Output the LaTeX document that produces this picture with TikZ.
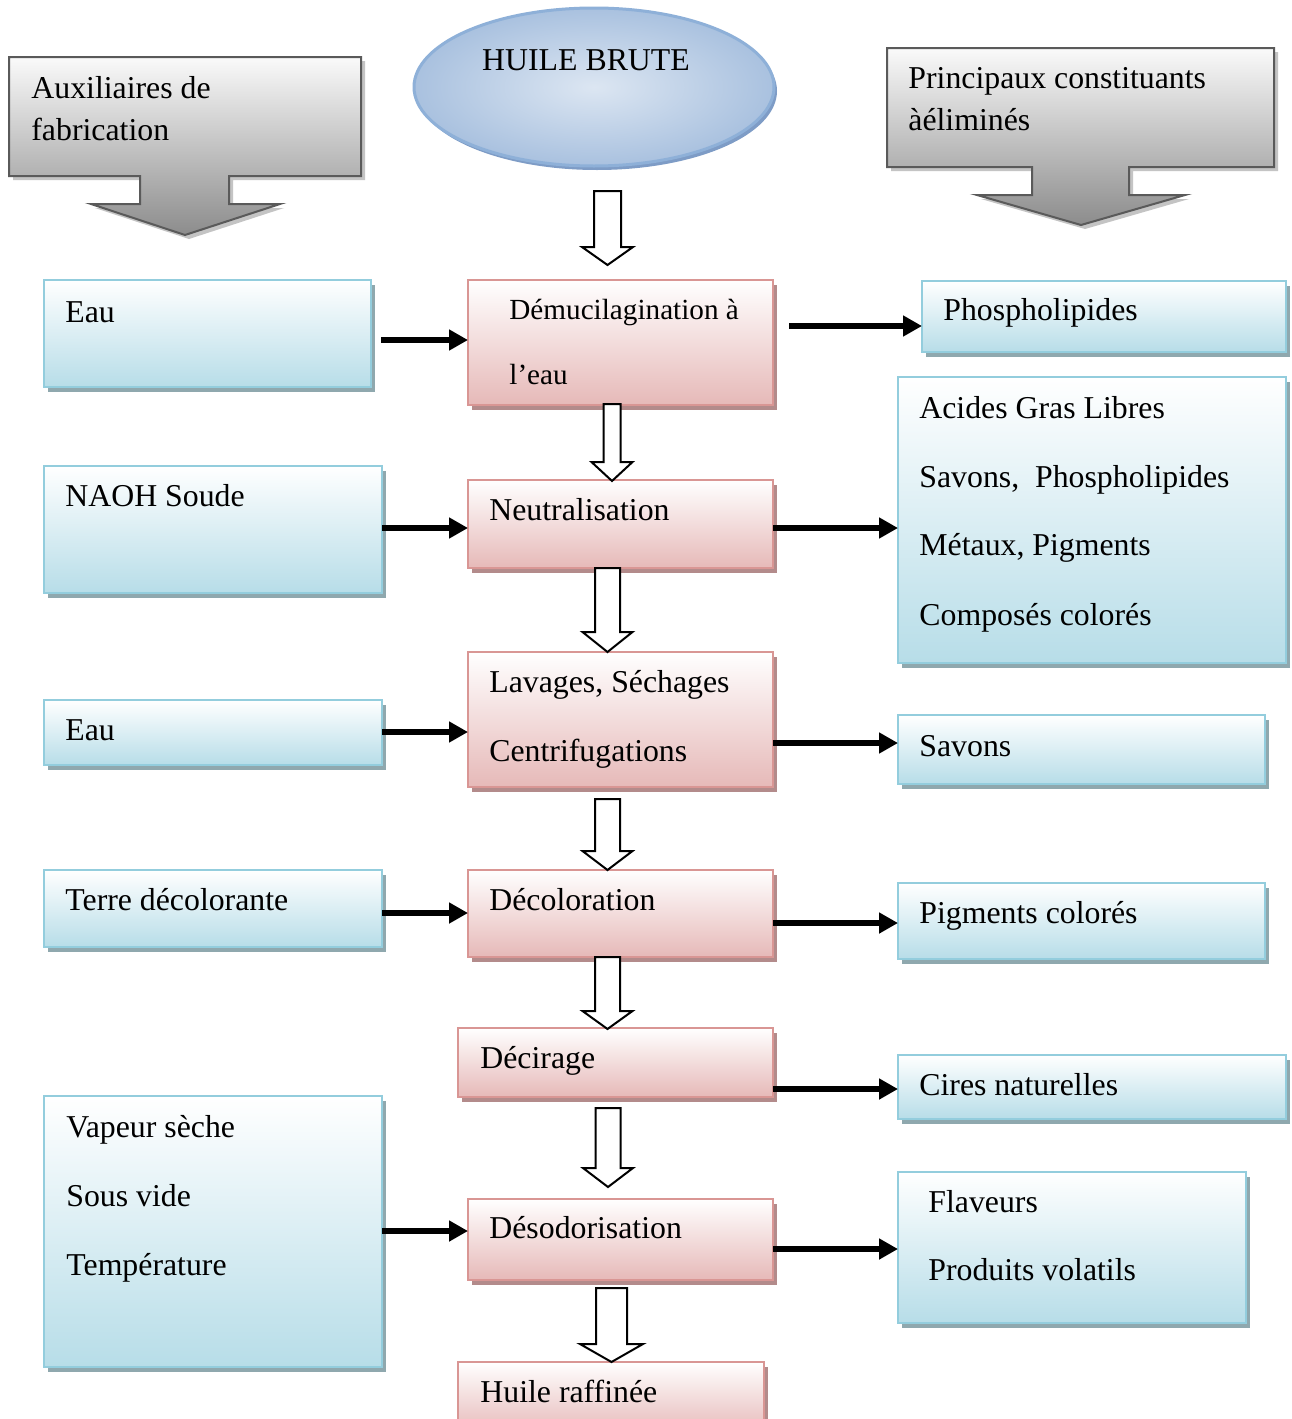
\documentclass[tikz,border=0pt]{standalone}
\usepackage{fontspec}
\setmainfont{Liberation Serif}
\usetikzlibrary{shapes.geometric,shadows,arrows.meta}
\definecolor{bfill}{HTML}{B7DDE8}
\definecolor{bborder}{HTML}{93CDDD}
\definecolor{bshadow}{HTML}{8FA8AE}
\definecolor{pfill}{HTML}{E6B9B8}
\definecolor{pborder}{HTML}{D99694}
\definecolor{pshadow}{HTML}{B38B8B}
\definecolor{gtop}{HTML}{FAFAFA}
\definecolor{gbot}{HTML}{8C8C8C}
\definecolor{gborder}{HTML}{5A5A5A}
\definecolor{gshadow}{HTML}{C4C4C4}
\definecolor{elin}{HTML}{DCE6F2}
\definecolor{elout}{HTML}{A9C1DF}
\definecolor{eborder}{HTML}{8EB0D8}
\definecolor{eshadow}{HTML}{7E9CC6}
\newcommand\fs{\fontsize{15.9}{19}\selectfont}
\newcommand\fsm{\fontsize{14.6}{18}\selectfont}
\newcommand\hollowarrow[6]{\draw[hollow] ({#1-#5},#2) -- ({#1+#5},#2) -- ({#1+#5},#3) -- ({#1+#6},#3) -- (#1,#4) -- ({#1-#6},#3) -- ({#1-#5},#3) -- cycle;}
\begin{document}
\begin{tikzpicture}[x=0.5pt,y=-0.5pt,
  basebox/.style={rectangle, inner sep=0pt, outer sep=0pt, anchor=north west, line width=1.2pt},
  bluebox/.style={basebox, draw=bborder, top color=white, bottom color=bfill,
    drop shadow={shadow xshift=2pt, shadow yshift=-2.5pt, fill=bshadow, opacity=1}},
  pinkbox/.style={basebox, draw=pborder, top color=white, bottom color=pfill,
    drop shadow={shadow xshift=2pt, shadow yshift=-2.5pt, fill=pshadow, opacity=1}},
  callout/.style={draw=gborder, line width=1pt, top color=gtop, bottom color=gbot,
    drop shadow={shadow xshift=2pt, shadow yshift=-2pt, fill=gshadow, opacity=1}},
  txt/.style={anchor=base west, inner sep=0pt, font=\fs},
  blk/.style={line width=3pt, -{Triangle[length=9.5pt,width=10pt]}},
  hollow/.style={draw=black, line width=1pt, fill=white, line join=miter}
]
\useasboundingbox (0,0) rectangle (1291,1419);
\clip (0,0) rectangle (1291,1419);
\fill[white] (0,0) rectangle (1291,1419);

% gray callouts
\path[callout] (9,57) -- (361,57) -- (361,176) -- (229,176) -- (229,204) -- (280,204) -- (185,235) -- (91,204) -- (140,204) -- (140,176) -- (9,176) -- cycle;
\node[txt] (aux1) at (31,98) {Auxiliaires de};
\node[txt] (aux2) at (31,140) {fabrication};
\path[callout] (887,48) -- (1274,48) -- (1274,167) -- (1129,167) -- (1129,195) -- (1185,195) -- (1081,225) -- (977,195) -- (1032,195) -- (1032,167) -- (887,167) -- cycle;
\node[txt] (pr1) at (908,88) {Principaux constituants};
\node[txt] (pr2) at (908,130) {àéliminés};

% crude oil ellipse
\node[ellipse, draw=eborder, line width=1.5pt, inner color=elin, outer color=elout,
  minimum width=180pt, minimum height=79pt, inner sep=0pt,
  drop shadow={shadow xshift=1.5pt, shadow yshift=-2pt, fill=eshadow, opacity=1}] (brute) at (594,87) {};
\node[txt, anchor=base] (brutet) at (586,70) {HUILE BRUTE};

% left boxes
\node[bluebox, minimum width=163.5pt, minimum height=53.5pt] (eau1) at (44,280) {};
\node[txt] (eau1t) at (65,322) {Eau};
\node[bluebox, minimum width=169pt, minimum height=63.5pt] (naoh) at (44,466) {};
\node[txt] (naoht) at (65,506) {NAOH Soude};
\node[bluebox, minimum width=169pt, minimum height=32.5pt] (eau2) at (44,700) {};
\node[txt] (eau2t) at (65,740) {Eau};
\node[bluebox, minimum width=169pt, minimum height=38.5pt] (terre) at (44,870) {};
\node[txt] (terret) at (65,910) {Terre décolorante};
\node[bluebox, minimum width=169pt, minimum height=135.5pt] (vap) at (44,1096) {};
\node[txt] (vap1) at (66,1137) {Vapeur sèche};
\node[txt] (vap2) at (66,1206) {Sous vide};
\node[txt] (vap3) at (66,1275) {Température};

% central boxes
\node[pinkbox, minimum width=152.5pt, minimum height=62.5pt] (demuc) at (468,280) {};
\node[txt, font=\fsm] (demuc1) at (509,319) {Démucilagination à};
\node[txt, font=\fsm] (demuc2) at (509,384) {l’eau};
\node[pinkbox, minimum width=152.5pt, minimum height=44pt] (neut) at (468,480) {};
\node[txt] (neutt) at (489,520) {Neutralisation};
\node[pinkbox, minimum width=152.5pt, minimum height=67.5pt] (lav) at (468,652) {};
\node[txt] (lav1) at (489,692) {Lavages, Séchages};
\node[txt] (lav2) at (489,761) {Centrifugations};
\node[pinkbox, minimum width=152.5pt, minimum height=43.5pt] (decol) at (468,870) {};
\node[txt] (decolt) at (489,910) {Décoloration};
\node[pinkbox, minimum width=157.5pt, minimum height=34.5pt] (decir) at (458,1028) {};
\node[txt] (decirt) at (480,1068) {Décirage};
\node[pinkbox, minimum width=152.5pt, minimum height=40.5pt] (desod) at (468,1199) {};
\node[txt] (desodt) at (489,1238) {Désodorisation};
\node[pinkbox, minimum width=153pt, minimum height=36pt] (raff) at (458,1362) {};
\node[txt] (rafft) at (480,1402) {Huile raffinée};

% right boxes
\node[bluebox, minimum width=182pt, minimum height=35.5pt] (phos) at (922,281) {};
\node[txt] (phost) at (943,320) {Phospholipides};
\node[bluebox, minimum width=194pt, minimum height=143pt] (big) at (898,377) {};
\node[txt] (big1) at (919,418) {Acides Gras Libres};
\node[txt] (big2) at (919,487) {Savons,\ \ Phospholipides};
\node[txt] (big3) at (919,555) {Métaux, Pigments};
\node[txt] (big4) at (919,625) {Composés colorés};
\node[bluebox, minimum width=183.5pt, minimum height=34.5pt] (sav) at (898,715) {};
\node[txt] (savt) at (919,756) {Savons};
\node[bluebox, minimum width=183.5pt, minimum height=38pt] (pig) at (898,883) {};
\node[txt] (pigt) at (919,923) {Pigments colorés};
\node[bluebox, minimum width=194pt, minimum height=32pt] (cir) at (898,1055) {};
\node[txt] (cirt) at (919,1095) {Cires naturelles};
\node[bluebox, minimum width=174pt, minimum height=75.5pt] (flav) at (898,1172) {};
\node[txt] (flav1) at (928,1212) {Flaveurs};
\node[txt] (flav2) at (928,1280) {Produits volatils};

% hollow arrows
\hollowarrow{607.5}{191}{247}{265}{13.5}{25.5}
\hollowarrow{612}{404}{462}{481}{8.5}{20.5}
\hollowarrow{607.5}{568}{632}{652}{12.5}{25}
\hollowarrow{607.5}{799}{851}{870}{12.5}{25}
\hollowarrow{607.5}{957}{1011}{1029}{12.5}{25}
\hollowarrow{608}{1108}{1168}{1187}{12.5}{25}
\hollowarrow{611.5}{1288}{1344}{1362}{15.5}{31.5}

% black arrows
\draw[blk, shorten <=5pt] (eau1.east |- 0,340) -- (demuc.west |- 0,340);
\draw[blk, shorten <=8pt] (demuc.east |- 0,326) -- (phos.west |- 0,326);
\draw[blk] (naoh.east |- 0,528) -- (neut.west |- 0,528);
\draw[blk] (neut.east |- 0,528) -- (big.west |- 0,528);
\draw[blk] (eau2.east |- 0,732) -- (lav.west |- 0,732);
\draw[blk] (lav.east |- 0,743) -- (sav.west |- 0,743);
\draw[blk] (terre.east |- 0,913) -- (decol.west |- 0,913);
\draw[blk] (decol.east |- 0,923) -- (pig.west |- 0,923);
\draw[blk] (decir.east |- 0,1089) -- (cir.west |- 0,1089);
\draw[blk] (vap.east |- 0,1231) -- (desod.west |- 0,1231);
\draw[blk] (desod.east |- 0,1249) -- (flav.west |- 0,1249);
\end{tikzpicture}
\end{document}
